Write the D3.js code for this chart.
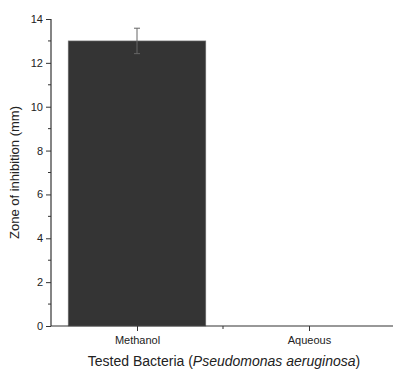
<!DOCTYPE html>
<html>
<head>
<meta charset="utf-8">
<script src="https://cdn.jsdelivr.net/npm/d3@7"></script>
<style>
  body { margin: 0; background: #fff; }
  text { font-family: "Liberation Sans", Arial, sans-serif; fill: #222; }
</style>
</head>
<body>
<svg id="chart" width="393" height="371"></svg>
<script>
var categories = ["Methanol", "Aqueous"];
var values = [13.0, 0];
var errors = [0.58, 0];
var yTicks = [0, 2, 4, 6, 8, 10, 12, 14];
var yMinor = [1, 3, 5, 7, 9, 11, 13];

var svg = d3.select("#chart");
var x0 = 51, x1 = 395, yTop = 19, yBot = 326;

// numeric x so the axis runs 0.5 .. 2.5 like the original
var x = d3.scaleLinear().domain([0.5, 2.5]).range([x0, x1]);
var y = d3.scaleLinear().domain([0, 14]).range([yBot, yTop]);
var bw = (x(2) - x(1)) * 0.8;

var g = svg.append("g");

// bars
g.selectAll(".bar")
  .data(values)
  .enter()
  .append("rect")
  .attr("class", "bar")
  .attr("x", (d, i) => x(i + 1) - bw / 2)
  .attr("y", d => y(d))
  .attr("width", bw)
  .attr("height", d => yBot - y(d))
  .attr("fill", "#343434")
  .attr("stroke", "#777")
  .attr("stroke-width", 0.6);

// error bars
var eb = g.selectAll(".err")
  .data(values.map((v, i) => ({v: v, e: errors[i], i: i})).filter(d => d.e > 0))
  .enter()
  .append("g")
  .attr("class", "err")
  .attr("stroke", "#666")
  .attr("stroke-width", 1);
eb.append("line")
  .attr("x1", d => x(d.i + 1)).attr("x2", d => x(d.i + 1))
  .attr("y1", d => y(d.v - d.e)).attr("y2", d => y(d.v + d.e));
eb.append("line")
  .attr("x1", d => x(d.i + 1) - 3).attr("x2", d => x(d.i + 1) + 3)
  .attr("y1", d => y(d.v + d.e)).attr("y2", d => y(d.v + d.e));
eb.append("line")
  .attr("x1", d => x(d.i + 1) - 3).attr("x2", d => x(d.i + 1) + 3)
  .attr("y1", d => y(d.v - d.e)).attr("y2", d => y(d.v - d.e));

// y axis
var yAxis = g.append("g")
  .attr("transform", "translate(" + x0 + ",0)")
  .call(d3.axisLeft(y).tickValues(yTicks).tickSize(5).tickPadding(3).tickFormat(d3.format("d")));
yMinor.forEach(function(v){
  yAxis.append("line").attr("x1", -3).attr("x2", 0)
    .attr("y1", y(v)).attr("y2", y(v)).attr("stroke", "#333");
});

// x axis
var xAxis = g.append("g")
  .attr("transform", "translate(0," + yBot + ")")
  .call(d3.axisBottom(x).tickValues([1, 2]).tickSize(5).tickPadding(5)
    .tickFormat((d, i) => categories[i]));
xAxis.append("line").attr("x1", x(1.5)).attr("x2", x(1.5))
  .attr("y1", 0).attr("y2", 3).attr("stroke", "#333");

[yAxis, xAxis].forEach(function(a){
  a.select(".domain").attr("stroke", "#333").attr("stroke-width", 1.2);
  a.selectAll(".tick line").attr("stroke", "#333");
  a.selectAll(".tick text").style("font-size", "11px").attr("fill", "#222");
});
xAxis.select(".domain").attr("d", "M" + x0 + ",0H" + x1);
yAxis.select(".domain").attr("d", "M0," + yBot + "V" + yTop);

// axis titles
svg.append("text")
  .attr("transform", "translate(19," + (yTop + yBot) / 2 + ") rotate(-90)")
  .attr("text-anchor", "middle")
  .style("font-size", "13px")
  .text("Zone of inhibition (mm)");

var t = svg.append("text")
  .attr("x", 224).attr("y", 366)
  .attr("text-anchor", "middle")
  .style("font-size", "14px");
t.append("tspan").text("Tested Bacteria (");
t.append("tspan").attr("font-style", "italic").text("Pseudomonas aeruginosa");
t.append("tspan").text(")");
</script>
</body>
</html>
